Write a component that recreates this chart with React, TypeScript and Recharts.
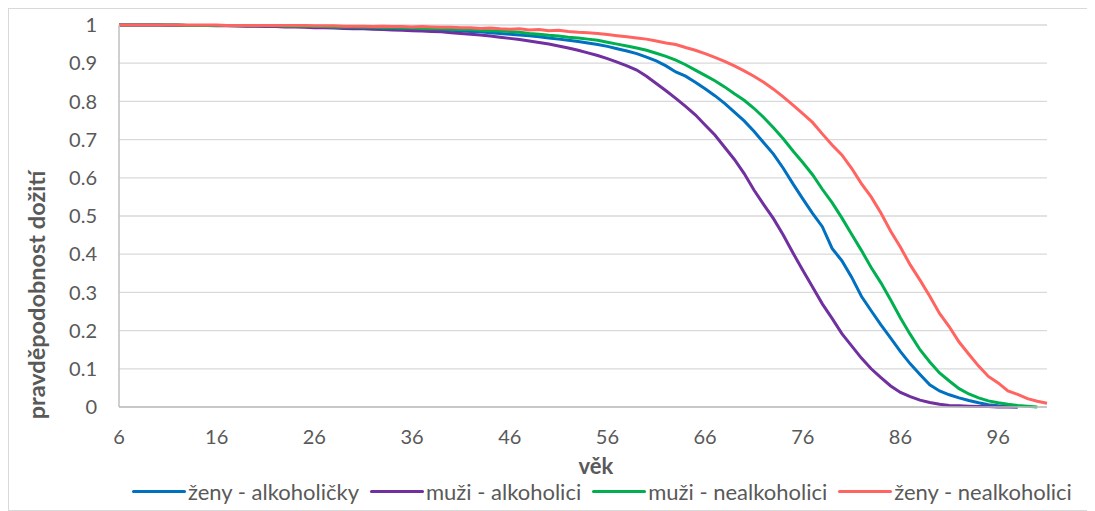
import { CartesianGrid, Label, Legend, Line, LineChart, XAxis, YAxis } from "recharts"

// věk 6..101
const ages = [
  6, 7, 8, 9, 10, 11, 12, 13, 14, 15,
  16, 17, 18, 19, 20, 21, 22, 23, 24, 25,
  26, 27, 28, 29, 30, 31, 32, 33, 34, 35,
  36, 37, 38, 39, 40, 41, 42, 43, 44, 45,
  46, 47, 48, 49, 50, 51, 52, 53, 54, 55,
  56, 57, 58, 59, 60, 61, 62, 63, 64, 65,
  66, 67, 68, 69, 70, 71, 72, 73, 74, 75,
  76, 77, 78, 79, 80, 81, 82, 83, 84, 85,
  86, 87, 88, 89, 90, 91, 92, 93, 94, 95,
  96, 97, 98, 99, 100, 101,
]

const zenyAlkoholicky = [
  1, 1, 1, 1, 1, 1, 1, 0.999, 0.999, 0.999,
  0.999, 0.999, 0.998, 0.998, 0.998, 0.998, 0.997, 0.997, 0.997, 0.996,
  0.996, 0.995, 0.995, 0.994, 0.994, 0.993, 0.993, 0.992, 0.991, 0.991,
  0.99, 0.989, 0.988, 0.987, 0.986, 0.985, 0.983, 0.982, 0.98, 0.978,
  0.976, 0.974, 0.972, 0.969, 0.966, 0.963, 0.96, 0.957, 0.953, 0.949,
  0.944, 0.938, 0.932, 0.925, 0.916, 0.906, 0.893, 0.877, 0.866, 0.85,
  0.833, 0.815, 0.795, 0.772, 0.749, 0.722, 0.692, 0.662, 0.625, 0.584,
  0.545, 0.507, 0.472, 0.415, 0.383, 0.34, 0.29, 0.252, 0.215, 0.18,
  0.145, 0.113, 0.085, 0.058, 0.042, 0.032, 0.024, 0.017, 0.011, 0.006,
  0.003, 0.001, 0,
]

const muziAlkoholici = [
  1, 1, 1, 1, 1, 0.999, 0.999, 0.999, 0.999, 0.999,
  0.998, 0.998, 0.998, 0.997, 0.997, 0.996, 0.996, 0.995, 0.995, 0.994,
  0.993, 0.993, 0.992, 0.991, 0.99, 0.99, 0.989, 0.988, 0.987, 0.986,
  0.985, 0.984, 0.983, 0.982, 0.98, 0.978, 0.976, 0.974, 0.971, 0.968,
  0.965, 0.962, 0.958, 0.954, 0.95, 0.945, 0.94, 0.934, 0.927, 0.92,
  0.912, 0.903, 0.893, 0.882, 0.866, 0.847, 0.828, 0.808, 0.787, 0.765,
  0.738, 0.712, 0.68, 0.648, 0.611, 0.568, 0.53, 0.493, 0.45, 0.403,
  0.358, 0.314, 0.27, 0.232, 0.192, 0.16, 0.128, 0.1, 0.077, 0.055,
  0.038, 0.027, 0.018, 0.012, 0.007, 0.004, 0.003, 0.002, 0.001, 0.001,
  0, 0, 0,
]

const muziNealkoholici = [
  1, 1, 1, 1, 1, 1, 1, 0.999, 0.999, 0.999,
  0.999, 0.999, 0.998, 0.998, 0.998, 0.998, 0.998, 0.997, 0.997, 0.997,
  0.996, 0.996, 0.995, 0.995, 0.995, 0.994, 0.994, 0.993, 0.993, 0.992,
  0.992, 0.991, 0.99, 0.99, 0.989, 0.988, 0.988, 0.986, 0.985, 0.984,
  0.983, 0.981, 0.978, 0.976, 0.973, 0.971, 0.968, 0.966, 0.963, 0.96,
  0.955, 0.95, 0.945, 0.94, 0.934, 0.926, 0.918, 0.908, 0.896, 0.882,
  0.868, 0.854, 0.838, 0.82, 0.803, 0.782, 0.758, 0.731, 0.702, 0.67,
  0.64, 0.608, 0.57, 0.535, 0.495, 0.452, 0.41, 0.365, 0.325, 0.28,
  0.233, 0.19, 0.15, 0.118, 0.089, 0.068, 0.048, 0.034, 0.024, 0.016,
  0.011, 0.007, 0.004, 0.002, 0,
]

const zenyNealkoholici = [
  1, 1, 1, 1, 1, 1, 1, 1, 1, 1,
  1, 0.999, 0.999, 0.999, 0.999, 0.999, 0.999, 0.999, 0.999, 0.999,
  0.998, 0.998, 0.998, 0.997, 0.997, 0.997, 0.996, 0.997, 0.996, 0.996,
  0.995, 0.996, 0.995, 0.994, 0.994, 0.993, 0.993, 0.991, 0.992, 0.99,
  0.989, 0.99, 0.987, 0.988, 0.985, 0.986, 0.983, 0.981, 0.98, 0.978,
  0.975, 0.972, 0.969, 0.966, 0.963, 0.958, 0.953, 0.949, 0.941, 0.934,
  0.925, 0.915, 0.905, 0.893, 0.88, 0.866, 0.85, 0.832, 0.812, 0.79,
  0.768, 0.745, 0.715, 0.686, 0.66, 0.625, 0.585, 0.55, 0.508, 0.46,
  0.418, 0.372, 0.332, 0.29, 0.245, 0.21, 0.17, 0.138, 0.107, 0.08,
  0.063, 0.042, 0.033, 0.022, 0.015, 0.01,
]

const xTicks = [6, 16, 26, 36, 46, 56, 66, 76, 86, 96]
const yTicks = [0, 0.1, 0.2, 0.3, 0.4, 0.5, 0.6, 0.7, 0.8, 0.9, 1]

const series = [
  { key: "za", name: "ženy - alkoholičky", color: "#0070C0" },
  { key: "ma", name: "muži - alkoholici", color: "#7030A0" },
  { key: "mn", name: "muži - nealkoholici", color: "#00B050" },
  { key: "zn", name: "ženy - nealkoholici", color: "#FF6461" },
]

const data = ages.map((age, i) => ({
  age,
  za: zenyAlkoholicky[i] ?? null,
  ma: muziAlkoholici[i] ?? null,
  mn: muziNealkoholici[i] ?? null,
  zn: zenyNealkoholici[i] ?? null,
}))

const font = "Lato, 'Liberation Sans', sans-serif"
const textColor = "#595959"

function LegendRow() {
  return (
    <div style={{ display: "flex", alignItems: "center", fontFamily: font, fontSize: 22, color: textColor, paddingLeft: 123, whiteSpace: "nowrap" }}>
      {series.map((s) => (
        <div key={s.key} style={{ display: "flex", alignItems: "center", marginRight: 11 }}>
          <span style={{ display: "inline-block", width: 54, height: 3.5, background: s.color, borderRadius: 2, marginRight: 2 }} />
          <span>{s.name}</span>
        </div>
      ))}
    </div>
  )
}

export default function App() {
  return (
    <div style={{ width: 1085, height: 501, border: "1px solid #d9d9d9", background: "#fff" }}>
      <LineChart width={1085} height={501} data={data} margin={{ top: 16, right: 47, left: 40, bottom: 8 }}>
        <CartesianGrid vertical={false} stroke="#d9d9d9" strokeWidth={1.3} />
        <XAxis
          type="number"
          dataKey="age"
          domain={[6, 101]}
          ticks={xTicks}
          interval={0}
          height={71}
          axisLine={{ stroke: "#bfbfbf", strokeWidth: 1.5 }}
          tickLine={false}
          tickMargin={17}
          tick={{ fill: textColor, fontSize: 20, fontFamily: font }}
        >
          <Label
            content={({ viewBox }: any) => (
              <text
                x={viewBox.x + viewBox.width / 2 + 13}
                y={viewBox.y + 58}
                textAnchor="middle"
                dominantBaseline="central"
                fill={textColor}
                fontFamily={font}
                fontWeight="bold"
                fontSize={22}
              >
                věk
              </text>
            )}
          />
        </XAxis>
        <YAxis
          type="number"
          domain={[0, 1]}
          ticks={yTicks}
          interval={0}
          width={70}
          axisLine={{ stroke: "#bfbfbf", strokeWidth: 1.5 }}
          tickLine={false}
          tickMargin={16}
          tick={{ fill: textColor, fontSize: 20, fontFamily: font }}
        >
          <Label
            content={({ viewBox }: any) => (
              <text
                x={viewBox.x - 13}
                y={286}
                transform={`rotate(-90, ${viewBox.x - 13}, 286)`}
                textAnchor="middle"
                dominantBaseline="central"
                fill={textColor}
                fontFamily={font}
                fontWeight="bold"
                fontSize={23.5}
              >
                pravděpodobnost dožití
              </text>
            )}
          />
        </YAxis>
        <Legend
          verticalAlign="bottom"
          height={24}
          wrapperStyle={{ left: 0, width: 1085 }}
          content={() => <LegendRow />}
        />
        {series.map((s) => (
          <Line
            key={s.key}
            type="linear"
            dataKey={s.key}
            name={s.name}
            stroke={s.color}
            strokeWidth={3}
            dot={false}
            connectNulls={false}
            isAnimationActive={false}
          />
        ))}
      </LineChart>
    </div>
  )
}
